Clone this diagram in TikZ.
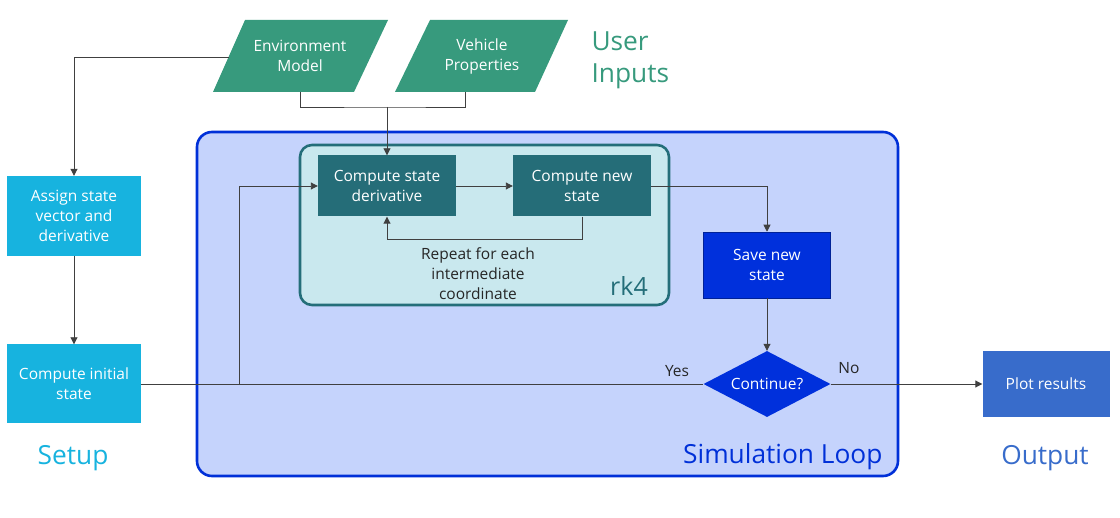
\documentclass[tikz,border=0pt]{standalone}
\usepackage{fontspec}
\setmainfont{Open Sans}
\usetikzlibrary{shapes.geometric,arrows.meta}
\definecolor{ugreen}{HTML}{379A7D}
\definecolor{ucyan}{HTML}{17B3DF}
\definecolor{loopfill}{HTML}{C5D3FC}
\definecolor{loopdraw}{HTML}{0030D8}
\definecolor{rkfill}{HTML}{C9E8EE}
\definecolor{rkdraw}{HTML}{246E79}
\definecolor{tealbox}{HTML}{256D78}
\definecolor{savebox}{HTML}{0030DC}
\definecolor{plotbox}{HTML}{386CCB}
\definecolor{lncol}{HTML}{404040}
\tikzset{
  boxfont/.style={font=\fontsize{15.5}{20}\selectfont},
  flowbox/.style={boxfont, text=white, align=center, inner sep=0pt, minimum width=#1},
  flowbox/.default=134pt,
  conn/.style={draw=lncol, line width=0.9pt},
  arr/.style={conn, -{Triangle[length=7pt,width=7pt]}},
  biglabel/.style={font=\fontsize{26.3}{32}\selectfont, align=left},
}
\begin{document}
\begin{tikzpicture}[x=1pt,y=-1pt]
\useasboundingbox[fill=white] (0,0) rectangle (1120,518);

% Simulation loop container
\draw[fill=loopfill, draw=loopdraw, line width=2.6pt, rounded corners=15pt] (197,132) rectangle (898,476);
\node[biglabel, text=loopdraw, anchor=east] (simlbl) at (886,457) {Simulation Loop};

% rk4 container
\draw[fill=rkfill, draw=rkdraw, line width=2.6pt, rounded corners=12pt] (300,145) rectangle (669,305);
\node[font=\fontsize{25}{28}\selectfont, text=rkdraw] (rklbl) at (629,286) {rk4};

% user inputs
\fill[ugreen] (245,20) -- (388,20) -- (354,92) -- (213,92) -- cycle;
\fill[ugreen] (430,20) -- (568,20) -- (535,92) -- (395,92) -- cycle;
\node[flowbox=100pt] (env) at (300,56) {Environment\\Model};
\node[flowbox=100pt] (veh) at (482,56) {Vehicle\\Properties};
\node[biglabel, text=ugreen, anchor=west] (uin) at (588,60) {User\\Inputs};

% setup
\node[flowbox, fill=ucyan, minimum height=80pt] (assign) at (74,216) {Assign state\\vector and\\derivative};
\node[flowbox, fill=ucyan, minimum height=79pt] (init) at (74,384) {Compute initial\\state};
\node[biglabel, text=ucyan] (setup) at (73,458) {Setup};

% rk4 contents
\node[flowbox=138pt, fill=tealbox, minimum height=61pt] (deriv) at (387,186) {Compute state\\derivative};
\node[flowbox=138pt, fill=tealbox, minimum height=61pt] (newst) at (582,186) {Compute new\\state};
\node[boxfont, text=black!85, align=center] (rep) at (478,274) {Repeat for each\\intermediate\\coordinate};

% loop contents
\node[flowbox=127pt, fill=savebox, draw=loopdraw!70!black, line width=0.5pt, minimum height=66pt] (save) at (767,265) {Save new\\state};
\node[diamond, aspect=1.92, fill=savebox, boxfont, text=white, inner sep=0pt, minimum width=127pt, minimum height=66pt] (cont) at (767,384) {Continue?};

% output
\node[flowbox=127pt, fill=plotbox, minimum height=66pt] (plot) at (1046,384) {Plot results};
\node[biglabel, text=plotbox] (outlbl) at (1045,458) {Output};

% connectors
\coordinate (envb) at (300,92);
\coordinate (vehb) at (465,92);
\coordinate (junc) at (387,107);
\coordinate (envl) at (229,57);
\coordinate (brch) at (239,384);
\draw[conn] (envb) |- (junc) -| (vehb);
\draw[arr] (junc) -- (deriv.north);
\draw[arr] (envl) -| (assign.north);
\draw[arr] (assign) -- (init);
\draw[conn] (init.east) -- (cont.west);
\draw[arr] (brch) |- (deriv.west);
\draw[arr] (deriv) -- (newst);
\draw[arr] (newst.south) -- ++(0,23) -| (deriv.south);
\draw[arr] (newst.east) -| (save.north);
\draw[arr] (save) -- (cont);
\draw[arr] (cont.east) -- (plot.west);
\node[boxfont, text=black!85] (yes) at (677,371) {Yes};
\node[boxfont, text=black!85] (no) at (849,368) {No};
\end{tikzpicture}
\end{document}
